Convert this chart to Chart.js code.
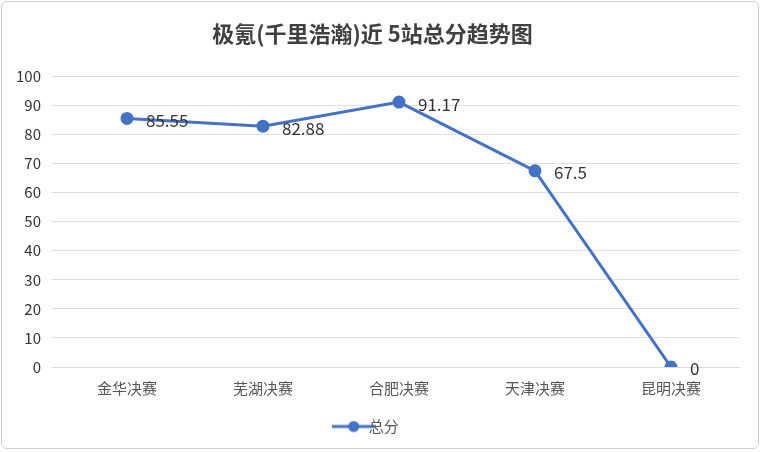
<!DOCTYPE html>
<html><head><meta charset="utf-8">
<script src="https://cdn.jsdelivr.net/npm/chart.js@4"></script>
<style>
html,body{margin:0;padding:0;background:#fff;}
#wrap{position:absolute;left:1px;top:1px;width:758px;height:448px;border:1px solid #d0d0d0;border-radius:6px;box-sizing:border-box;}
canvas{display:block;}
</style></head><body>
<div id="wrap"><canvas id="c"></canvas></div>
<script>
const categories = ['金华决赛','芜湖决赛','合肥决赛','天津决赛','昆明决赛'];
const seriesName = '总分';
const values = [85.55, 82.88, 91.17, 67.5, 0];
const yTicks = [0,10,20,30,40,50,60,70,80,90,100];
const font = '"Noto Sans CJK SC", "Noto Sans", sans-serif';

const icon = document.createElement('canvas');
icon.width = 44; icon.height = 14;
(function(){const g=icon.getContext('2d');g.strokeStyle='#4472C4';g.fillStyle='#4472C4';g.lineWidth=3;
g.beginPath();g.moveTo(0,7);g.lineTo(44,7);g.stroke();g.beginPath();g.arc(22,7,5.5,0,Math.PI*2);g.fill();})();

const labelPlugin = {
  id:'lbl',
  afterDatasetsDraw(chart){
    const ctx = chart.ctx;
    const meta = chart.getDatasetMeta(0);
    ctx.save();
    ctx.font = '17px ' + font;
    ctx.fillStyle = '#333';
    ctx.textBaseline = 'middle';
    meta.data.forEach((p,i)=>{
      ctx.fillText(String(values[i]), p.x + 19, p.y + 2);
    });
    ctx.restore();
  }
};

new Chart(document.getElementById('c'), {
  type:'line',
  data:{labels:categories, datasets:[{
    label:seriesName, data:values, borderColor:'#4472C4', backgroundColor:'#4472C4',
    borderWidth:3, pointRadius:5, pointHoverRadius:5, tension:0
  }]},
  options:{
    responsive:true, maintainAspectRatio:false, animation:false,
    layout:{padding:{left:4,right:19,top:10,bottom:4}},
    plugins:{
      title:{display:true, text:'极氪(千里浩瀚)近 5站总分趋势图', color:'#404040',
        font:{family:font, size:22, weight:'bold'}, padding:{top:8,bottom:30}},
      legend:{position:'bottom', labels:{color:'#555', font:{family:font,size:15},
        usePointStyle:true, padding:18,
        generateLabels(chart){
          return [{text:seriesName, fillStyle:'#4472C4', strokeStyle:'#4472C4', lineWidth:0, pointStyle:icon, fontColor:'#555'}];
        }}},
      tooltip:{enabled:false}
    },
    scales:{
      x:{offset:true, grid:{display:false}, border:{color:'#d9d9d9'},
        ticks:{color:'#555', font:{family:font,size:15}, padding:4}},
      y:{min:0,max:100, afterBuildTicks(s){s.ticks=yTicks.map(v=>({value:v}));},
        grid:{color:'#e0e0e0'}, border:{display:false},
        ticks:{color:'#333', font:{family:font,size:15}, padding:10}}
    }
  },
  plugins:[labelPlugin]
});
</script></body></html>
